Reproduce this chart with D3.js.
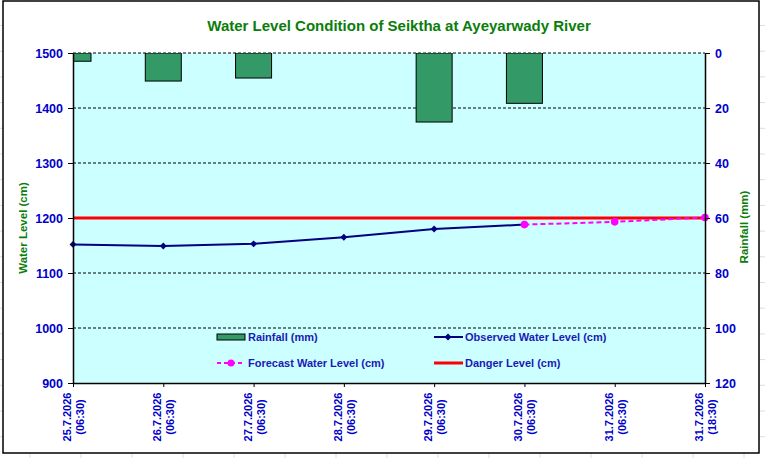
<!DOCTYPE html>
<html>
<head>
<meta charset="utf-8">
<script src="https://cdn.jsdelivr.net/npm/d3@7"></script>
<style>
  body { margin: 0; background: #fff; }
  text { font-family: "Liberation Sans", Arial, sans-serif; font-weight: bold; }
</style>
</head>
<body>
<div class="container"></div>
<script>
var dates = ['25.7.2026','26.7.2026','27.7.2026','28.7.2026','29.7.2026','30.7.2026','31.7.2026','31.7.2026'];
var times = ['(06:30)','(06:30)','(06:30)','(06:30)','(06:30)','(06:30)','(06:30)','(18:30)'];
var rainfall = [3, 10.2, 9.1, 0, 25.1, 18.3, null, null];
var observed = [1152, 1149, 1153, 1165, 1180, 1188, null, null];
var forecast = [null, null, null, null, null, 1188, 1193, 1201];
var danger = 1200;
var levelTicks = [900, 1000, 1100, 1200, 1300, 1400, 1500];
var rainTicks = [0, 20, 40, 60, 80, 100, 120];

var W = 765, H = 458;
var pLeft = 73, pRight = 705, pTop = 53, pBottom = 383;
var blue = '#0000cc', green = '#0a7d0a';

var svg = d3.select('.container')
    .append('svg')
    .attr('width', W)
    .attr('height', H);

// faint sheet cells behind the chart
svg.selectAll('.row')
    .data(d3.range(18))
    .enter()
    .append('line')
    .attr('x1', 0).attr('x2', W)
    .attr('y1', d => 25.5 + d * 25.7)
    .attr('y2', d => 25.5 + d * 25.7)
    .style('stroke', '#dcdcdc');
svg.selectAll('.col')
    .data(d3.range(15))
    .enter()
    .append('line')
    .attr('x1', d => 30 + d * 51).attr('x2', d => 30 + d * 51)
    .attr('y1', 0).attr('y2', H)
    .style('stroke', '#dcdcdc');

svg.append('rect')
    .attr('x', 3).attr('y', 1)
    .attr('width', 756).attr('height', 452)
    .style('fill', '#fff')
    .style('stroke', '#000')
    .style('stroke-width', 1.5);

var x = d3.scalePoint().domain(d3.range(dates.length)).range([pLeft, pRight]);
var yL = d3.scaleLinear().domain([900, 1500]).range([pBottom, pTop]);
var yR = d3.scaleLinear().domain([0, 120]).range([pTop, pBottom]);

svg.append('clipPath').attr('id', 'plot')
    .append('rect')
    .attr('x', pLeft).attr('y', pTop)
    .attr('width', pRight - pLeft).attr('height', pBottom - pTop);

svg.append('rect')
    .attr('x', pLeft).attr('y', pTop)
    .attr('width', pRight - pLeft).attr('height', pBottom - pTop)
    .style('fill', '#ccffff');

svg.selectAll('.grid')
    .data(levelTicks.slice(1))
    .enter()
    .append('line')
    .attr('x1', pLeft).attr('x2', pRight)
    .attr('y1', d => yL(d)).attr('y2', d => yL(d))
    .style('stroke', '#000')
    .style('stroke-dasharray', '3,2');

svg.append('g')
    .attr('clip-path', 'url(#plot)')
    .selectAll('rect')
    .data(rainfall.map((v, i) => ({ i: i, v: v })).filter(d => d.v))
    .enter()
    .append('rect')
    .attr('x', d => x(d.i) - 18)
    .attr('y', yR(0))
    .attr('width', 36)
    .attr('height', d => yR(d.v) - yR(0))
    .style('fill', '#339966')
    .style('stroke', '#000')
    .style('stroke-width', 1);

svg.append('line')
    .attr('x1', pLeft).attr('x2', pRight)
    .attr('y1', yL(danger)).attr('y2', yL(danger))
    .style('stroke', '#ff0000')
    .style('stroke-width', 3);

var line = d3.line()
    .defined(d => d.v != null)
    .x(d => x(d.i))
    .y(d => yL(d.v));

var obs = observed.map((v, i) => ({ i: i, v: v }));
var fc = forecast.map((v, i) => ({ i: i, v: v }));
var diamond = d3.symbol(d3.symbolSquare, 24);

svg.append('path')
    .attr('d', line(obs))
    .style('fill', 'none')
    .style('stroke', '#000080')
    .style('stroke-width', 2);

svg.selectAll('.obs')
    .data(obs.filter(d => d.v != null))
    .enter()
    .append('path')
    .attr('d', diamond)
    .attr('transform', d => 'translate(' + x(d.i) + ',' + yL(d.v) + ') rotate(45)')
    .style('fill', '#000080');

svg.append('path')
    .attr('d', line(fc))
    .style('fill', 'none')
    .style('stroke', '#ff00ff')
    .style('stroke-width', 2)
    .style('stroke-dasharray', '5,3');

svg.selectAll('.fc')
    .data(fc.filter(d => d.v != null))
    .enter()
    .append('circle')
    .attr('cx', d => x(d.i))
    .attr('cy', d => yL(d.v))
    .attr('r', 3.8)
    .style('fill', '#ff00ff');

// axes
var axL = svg.append('g')
    .attr('transform', 'translate(' + pLeft + ',0)')
    .call(d3.axisLeft(yL).tickValues(levelTicks).tickFormat(d3.format('d'))
        .tickSize(5).tickPadding(5).tickSizeOuter(0));
var axR = svg.append('g')
    .attr('transform', 'translate(' + pRight + ',0)')
    .call(d3.axisRight(yR).tickValues(rainTicks).tickFormat(d3.format('d'))
        .tickSize(5).tickPadding(5).tickSizeOuter(0));
var axB = svg.append('g')
    .attr('transform', 'translate(0,' + pBottom + ')')
    .call(d3.axisBottom(x).tickSize(4).tickFormat('').tickSizeOuter(0));

[axL, axR, axB].forEach(function(a) {
    a.select('.domain').style('stroke', '#000').style('stroke-width', 1.5);
    a.selectAll('line').style('stroke', '#000');
    a.selectAll('text')
        .style('fill', blue)
        .style('font-size', '12.5px')
        .style('font-family', '"Liberation Sans", Arial, sans-serif')
        .style('font-weight', 'bold');
});

var xl = svg.selectAll('.xlab')
    .data(dates)
    .enter()
    .append('text')
    .attr('transform', (d, i) => 'translate(' + x(i) + ',417) rotate(-90)')
    .attr('text-anchor', 'middle')
    .style('fill', blue)
    .style('font-size', '11px');
xl.append('tspan').attr('x', 0).attr('y', -2).text(d => d);
xl.append('tspan').attr('x', 0).attr('y', 11).text((d, i) => times[i]);

svg.append('text')
    .attr('x', 399).attr('y', 31)
    .attr('text-anchor', 'middle')
    .style('fill', green)
    .style('font-size', '15px')
    .text('Water Level Condition of Seiktha at Ayeyarwady River');

svg.append('text')
    .attr('transform', 'translate(27,228) rotate(-90)')
    .attr('text-anchor', 'middle')
    .style('fill', green)
    .style('font-size', '11.5px')
    .text('Water Level (cm)');

svg.append('text')
    .attr('transform', 'translate(748,227) rotate(-90)')
    .attr('text-anchor', 'middle')
    .style('fill', green)
    .style('font-size', '11.5px')
    .text('Rainfall (mm)');

// legend
var leg = svg.append('g').style('font-size', '11px');
leg.append('rect')
    .attr('x', 217).attr('y', 334).attr('width', 28).attr('height', 6)
    .style('fill', '#339966').style('stroke', '#000');
leg.append('line')
    .attr('x1', 434).attr('x2', 463).attr('y1', 337).attr('y2', 337)
    .style('stroke', '#000080').style('stroke-width', 2);
leg.append('path')
    .attr('d', diamond)
    .attr('transform', 'translate(448,337) rotate(45)')
    .style('fill', '#000080');
leg.append('line')
    .attr('x1', 217).attr('x2', 245).attr('y1', 363).attr('y2', 363)
    .style('stroke', '#ff00ff').style('stroke-width', 2).style('stroke-dasharray', '4,3');
leg.append('circle')
    .attr('cx', 231).attr('cy', 363).attr('r', 3.5)
    .style('fill', '#ff00ff');
leg.append('line')
    .attr('x1', 434).attr('x2', 463).attr('y1', 363).attr('y2', 363)
    .style('stroke', '#ff0000').style('stroke-width', 3);

var legText = [
    { x: 248, y: 341, t: 'Rainfall (mm)' },
    { x: 465, y: 341, t: 'Observed Water Level (cm)' },
    { x: 248, y: 367, t: 'Forecast Water Level (cm)' },
    { x: 465, y: 367, t: 'Danger Level (cm)' }
];
leg.selectAll('text')
    .data(legText)
    .enter()
    .append('text')
    .attr('x', d => d.x)
    .attr('y', d => d.y)
    .style('fill', '#1a1ab4')
    .text(d => d.t);
</script>
</body>
</html>
